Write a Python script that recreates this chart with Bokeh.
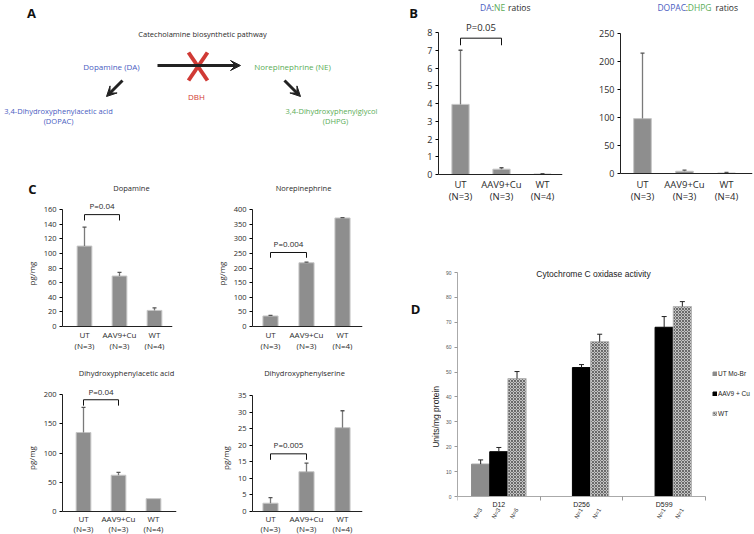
import math
from bokeh.plotting import figure
from bokeh.layouts import row, column
from bokeh.models import (Range1d, FixedTicker, Label, Whisker, ColumnDataSource, Arrow,
                          VeeHead, TeeHead, Legend, LegendItem)
from bokeh.core.properties import value
from bokeh.embed import file_html
from bokeh.resources import INLINE

# ---------------- data ----------------
groups = ["UT", "AAV9+Cu", "WT"]
group_n = ["(N=3)", "(N=3)", "(N=4)"]

da_ne = [3.95, 0.30, 0.03]
da_ne_err = [3.05, 0.08, 0.02]
dopac_dhpg = [98, 4, 1]
dopac_dhpg_err = [117, 2, 1]

dopamine = [110, 69, 22]
dopamine_err = [26, 5, 3.5]
norepinephrine = [36, 218, 371]
norepinephrine_err = [2, 2, 1]
dopac = [135, 62, 22]
dopac_err = [43, 5, 0]
dops = [2.5, 12, 25.3]
dops_err = [1.7, 2.6, 5.1]

cox_days = ["D12", "D256", "D599"]
cox_series = ["UT Mo-Br", "AAV9 + Cu", "WT"]
cox_ut = [13.0, None, None]
cox_ut_err = [1.7, None, None]
cox_aav = [18.0, 51.8, 68.0]
cox_aav_err = [1.7, 1.2, 4.3]
cox_wt = [47.4, 62.2, 76.3]
cox_wt_err = [2.8, 3.0, 2.0]
cox_n_ut = ["N=3", None, None]
cox_n_aav = ["N=3", "N=1", "N=1"]
cox_n_wt = ["N=6", "N=1", "N=1"]

# ---------------- style ----------------
FONT = "Open Sans"
DFONT = "Liberation Sans"
BLUE = "#4a5dbf"
GREEN = "#5aad57"
RED = "#d03a35"
TXT = "#2b2b2b"
BAR = "#8e8e8e"
BAR_EDGE = "#c6c6c6"
ERR = "#7a7a7a"


def mk_fig(canvas, frame, xr, yr, axes=True):
    cx0, cy0, cx1, cy1 = canvas
    fx0, fy0, fx1, fy1 = frame
    kw = {}
    if not axes:
        kw = dict(x_axis_location=None, y_axis_location=None)
    p = figure(width=cx1 - cx0, height=cy1 - cy0,
               x_range=Range1d(*xr), y_range=Range1d(*yr),
               output_backend="svg", toolbar_location=None,
               min_border_left=fx0 - cx0, min_border_right=cx1 - fx1,
               min_border_top=fy0 - cy0, min_border_bottom=cy1 - fy1, **kw)
    p.outline_line_color = None
    p.grid.visible = False
    return p


def text_fig(canvas):
    cx0, cy0, cx1, cy1 = canvas
    return mk_fig(canvas, canvas, (cx0, cx1), (cy1, cy0), axes=False)


def conv(frame, xr, yr):
    fx0, fy0, fx1, fy1 = frame
    def f(px, py):
        return (xr[0] + (px - fx0) / (fx1 - fx0) * (xr[1] - xr[0]),
                yr[0] + (fy1 - py) / (fy1 - fy0) * (yr[1] - yr[0]))
    return f


def lab(p, x, y, s, color=TXT, size=8, font=FONT, bold=False, align="center", angle=0):
    p.add_layout(Label(x=x, y=y, text=s, text_color=color, text_font=font,
                       text_font_size=f"{size}px", text_align=align,
                       text_baseline="middle", angle=angle,
                       text_font_style="bold" if bold else "normal"))


def base_x_axis(ax):
    ax.fixed_location = 0
    ax.major_label_standoff = 0
    ax.major_tick_in = 0
    ax.minor_tick_in = 0
    ax.major_tick_out = 0
    ax.axis_label_standoff = 0
    ax.major_tick_line_color = None


def bar_panel(canvas, frame, y0_px, ytop_px, x0px, step, ymax, ystep, vals, errs,
              lab_y, cat_fs, tick_fs, ylabel=None, bracket=None):
    fx0, fy0, fx1, fy1 = frame
    s = (y0_px - ytop_px) / ymax
    xr = ((fx0 - x0px) / step, (fx1 - x0px) / step)
    yr = (-(fy1 - y0_px) / s, (y0_px - fy0) / s)
    p = mk_fig(canvas, frame, xr, yr)
    c = conv(frame, xr, yr)
    xs = list(range(len(groups)))
    src = ColumnDataSource(dict(x=xs, top=vals))
    p.vbar(x="x", top="top", bottom=0, width=0.42, source=src, fill_color=BAR,
           line_color=BAR_EDGE, line_width=1)
    ex = [x for x, e in zip(xs, errs) if e > 0]
    elo = [v for v, e in zip(vals, errs) if e > 0]
    ehi = [v + e for v, e in zip(vals, errs) if e > 0]
    esrc = ColumnDataSource(dict(x=ex, lo=elo, hi=ehi))
    p.add_layout(Whisker(base="x", lower="lo", upper="hi", source=esrc,
                         line_color=ERR, line_width=1.3, level="glyph",
                         upper_head=TeeHead(size=4, line_color="#555", line_width=1.3),
                         lower_head=None))
    xa = p.xaxis[0]
    xa.ticker = FixedTicker(ticks=[])
    xa.axis_line_color = "#222"
    xa.minor_tick_line_color = None
    xa.minor_tick_out = 0
    base_x_axis(xa)
    gy = c(0, lab_y[0])[1]
    ny = c(0, lab_y[1])[1]
    lsrc = ColumnDataSource(dict(x=xs + xs, y=[gy] * len(xs) + [ny] * len(xs),
                                 t=groups + group_n))
    p.text(x="x", y="y", text="t", source=lsrc, text_align="center",
           text_baseline="middle", text_font=value(FONT),
           text_font_size=value(f"{cat_fs}px"), text_color=TXT)
    ya = p.yaxis[0]
    ya.ticker = FixedTicker(ticks=list(range(0, ymax + 1, ystep)))
    ya.bounds = (0, ymax)
    ya.axis_line_color = "#222"
    ya.major_tick_out = 3
    ya.major_tick_in = 0
    ya.minor_tick_line_color = None
    ya.major_label_standoff = 3
    ya.major_label_text_font = FONT
    ya.major_label_text_font_size = f"{tick_fs}px"
    ya.major_label_text_color = TXT
    if ylabel:
        ya.axis_label = ylabel
        ya.axis_label_text_font = FONT
        ya.axis_label_text_font_style = "normal"
        ya.axis_label_text_font_size = f"{tick_fs + 0.5}px"
        ya.axis_label_text_color = TXT
        ya.axis_label_standoff = 4
    if bracket:
        top, leg, text, off = bracket
        p.line(x=[0, 0, 1, 1], y=[leg, top, top, leg], line_color="#111", line_width=1)
        p.add_layout(Label(x=0.5, y=top, y_offset=off, text=text, text_color=TXT,
                           text_font=FONT, text_font_size=f"{tick_fs + 0.5}px",
                           text_align="center", text_baseline="middle"))
    return p, c


# ---------------- Panel A (diagram) + C headings ----------------
pa = text_fig((0, 0, 380, 196))
lab(pa, 31, 12, "A", "#111", 13, bold=True)
lab(pa, 202, 33, "Catecholamine biosynthetic pathway", TXT, 7.5)
lab(pa, 111, 66, "Dopamine (DA)", BLUE, 8)
lab(pa, 292, 66, "Norepinephrine (NE)", GREEN, 8)
lab(pa, 196, 96, "DBH", RED, 8)
lab(pa, 58, 110, "3,4-Dihydroxyphenylacetic acid", BLUE, 7.5)
lab(pa, 58, 120, "(DOPAC)", BLUE, 7.5)
lab(pa, 331, 110, "3,4-Dihydroxyphenylglycol", GREEN, 7.5)
lab(pa, 335, 120, "(DHPG)", GREEN, 7.5)
for (xs_, ys_, xe_, ye_) in [(157, 65, 240, 65), (122, 80, 106, 96), (284, 80, 300, 96)]:
    pa.add_layout(Arrow(end=VeeHead(size=10, fill_color="#222", line_color="#222"),
                        x_start=xs_, y_start=ys_, x_end=xe_, y_end=ye_,
                        line_width=3, line_color="#222"))
pa.segment(x0=[188, 207], y0=[52, 52], x1=[207, 188], y1=[80, 80],
           line_color=RED, line_width=4)
lab(pa, 32, 188, "C", "#111", 13, bold=True)
lab(pa, 131, 187, "Dopamine", TXT, 7.5)
lab(pa, 303, 187, "Norepinephrine", TXT, 7.5)

# ---------------- Panel B ----------------
pbl = text_fig((380, 0, 420, 208))
lab(pbl, 413, 12, "B", "#111", 13, bold=True)

pb1, cb1 = bar_panel((420, 0, 570, 208), (438, 0, 562, 208), 174, 32, 460, 41, 8, 1,
                     da_ne, da_ne_err, (184, 195.5), 9.5, 9,
                     bracket=(7.68, 7.28, "P=0.05", 11))
x, y = cb1(491, 6.5); lab(pb1, x, y, "DA", BLUE, 8.5, align="right")
x, y = cb1(492.3, 6.5); lab(pb1, x, y, ":", TXT, 8.5)
x, y = cb1(493.5, 6.5); lab(pb1, x, y, "NE", GREEN, 8.5, align="left")
x, y = cb1(507.5, 6.5); lab(pb1, x, y, "ratios", TXT, 8.5, align="left")

pb2, cb2 = bar_panel((570, 0, 754, 208), (620, 0, 752, 208), 173, 33, 642, 42, 250, 50,
                     dopac_dhpg, dopac_dhpg_err, (184, 195.5), 9.5, 9)
x, y = cb2(685.5, 6.5); lab(pb2, x, y, "DOPAC", BLUE, 8.5, align="right")
x, y = cb2(686.3, 6.5); lab(pb2, x, y, ":", TXT, 8.5)
x, y = cb2(687.3, 6.5); lab(pb2, x, y, "DHPG", GREEN, 8.5, align="left")
x, y = cb2(715, 6.5); lab(pb2, x, y, "ratios", TXT, 8.5, align="left")

# ---------------- Panel C ----------------
pc1, cc1 = bar_panel((0, 196, 190, 350), (62, 196, 172, 350), 326, 209, 84, 35, 160, 20,
                     dopamine, dopamine_err, (333.5, 345), 8, 7.5, ylabel="pg/mg",
                     bracket=(153, 145, "P=0.04", 9))
pc2, cc2 = bar_panel((190, 196, 380, 350), (252, 196, 362, 350), 326, 209, 270, 36, 400, 50,
                     norepinephrine, norepinephrine_err, (333.5, 345), 8, 7.5, ylabel="pg/mg",
                     bracket=(253, 235, "P=0.004", 9))

pct = text_fig((0, 350, 380, 381))
lab(pct, 126, 372, "Dihydroxyphenylacetic acid", TXT, 7.5)
lab(pct, 304, 372, "Dihydroxyphenylserine", TXT, 7.5)

pc3, cc3 = bar_panel((0, 381, 190, 534), (62, 381, 176, 534), 511, 394, 83, 35, 200, 50,
                     dopac, dopac_err, (517.5, 527.5), 8, 7.5, ylabel="pg/mg",
                     bracket=(191, 181, "P=0.04", 8))
pc4, cc4 = bar_panel((190, 381, 380, 534), (252, 381, 362, 534), 511, 395, 270, 36, 35, 5,
                     dops, dops_err, (517.5, 527.5), 8, 7.5, ylabel="pg/mg",
                     bracket=(17.4, 15.6, "P=0.005", 9))

# ---------------- Panel D ----------------
pdl = text_fig((380, 208, 441, 534))
lab(pdl, 415, 264, "D", "#111", 13, bold=True)
lab(pdl, 435, 393, "Units/mg protein", "#222", 8.5, font=DFONT, angle=math.pi / 2)

d_canvas = (441, 208, 754, 534)
d_frame = (457, 262, 754, 534)
d_y0, d_ytop = 496, 272
d_s = (d_y0 - d_ytop) / 90
d_xr = (0, 3 * (754 - 457) / (705 - 457))
d_yr = (-(d_frame[3] - d_y0) / d_s, (d_y0 - d_frame[1]) / d_s)
pd = mk_fig(d_canvas, d_frame, d_xr, d_yr)
cd = conv(d_frame, d_xr, d_yr)
offs = [-0.22, 0.0, 0.22]
styles = [dict(fill_color="#8c8c8c", line_color="#8c8c8c"),
          dict(fill_color="#000000", line_color="#000000"),
          dict(fill_color="#c4c4c4", line_color="#b5b5b5", hatch_pattern="diagonal_cross",
               hatch_color="#444444", hatch_scale=3, hatch_weight=0.7)]
legend_items = []
n_x, n_t = [], []
for k, (vals, errs, ns) in enumerate([(cox_ut, cox_ut_err, cox_n_ut),
                                      (cox_aav, cox_aav_err, cox_n_aav),
                                      (cox_wt, cox_wt_err, cox_n_wt)]):
    xs = [i + 0.5 + offs[k] for i, v in enumerate(vals) if v is not None]
    tops = [v for v in vals if v is not None]
    es = [e for e in errs if e is not None]
    r = pd.vbar(x=xs, top=tops, bottom=0, width=0.22, **styles[k])
    legend_items.append(LegendItem(label=cox_series[k], renderers=[r]))
    esrc = ColumnDataSource(dict(x=xs, lo=tops, hi=[t + e for t, e in zip(tops, es)]))
    pd.add_layout(Whisker(base="x", lower="lo", upper="hi", source=esrc,
                          line_color="#222", line_width=1, level="glyph",
                          upper_head=TeeHead(size=5, line_color="#222", line_width=1),
                          lower_head=None))
    for i, n in enumerate(ns):
        if n is not None:
            n_x.append(i + 0.5 + offs[k])
            n_t.append(n)

xa = pd.xaxis[0]
xa.ticker = FixedTicker(ticks=[], minor_ticks=list(range(len(cox_days) + 1)))
xa.bounds = (0, 3)
xa.minor_tick_out = 4
xa.minor_tick_line_color = "#999"
xa.axis_line_color = "#aaa"
base_x_axis(xa)
dsrc = ColumnDataSource(dict(x=[i + 0.5 for i in range(len(cox_days))],
                             y=[cd(0, 504)[1]] * len(cox_days), t=cox_days))
pd.text(x="x", y="y", text="t", source=dsrc, text_align="center", text_baseline="middle",
        text_font=value(DFONT), text_font_size=value("7px"), text_color="#222")
nsrc = ColumnDataSource(dict(x=n_x, y=[cd(0, 508)[1]] * len(n_x), t=n_t))
pd.text(x="x", y="y", text="t", source=nsrc, angle=math.radians(60),
        text_align="right", text_baseline="middle",
        text_font=value(DFONT), text_font_size=value("6px"), text_color="#333")

ya = pd.yaxis[0]
ya.ticker = FixedTicker(ticks=list(range(0, 91, 10)))
ya.bounds = (0, 90)
ya.axis_line_color = "#aaa"
ya.major_tick_out = 3
ya.major_tick_in = 0
ya.major_tick_line_color = "#999"
ya.minor_tick_line_color = None
ya.major_label_standoff = 3
ya.major_label_text_font = DFONT
ya.major_label_text_font_size = "5px"
ya.major_label_text_color = "#555"
x, y = cd(593, 273); lab(pd, x, y, "Cytochrome C oxidase activity", "#222", 8.5, font=DFONT)
leg = Legend(items=legend_items, location=(255, 534 - 417), glyph_width=5, glyph_height=5,
             label_text_font=DFONT, label_text_font_size="6.5px", label_text_color="#222",
             label_standoff=1, spacing=12, padding=0, margin=0, label_height=8,
             border_line_color=None, background_fill_alpha=0)
pd.add_layout(leg)

layout = row(column(pa, row(pc1, pc2), pct, row(pc3, pc4)),
             column(row(pbl, pb1, pb2), row(pdl, pd)))

open("out.html", "w").write(file_html(layout, INLINE))
